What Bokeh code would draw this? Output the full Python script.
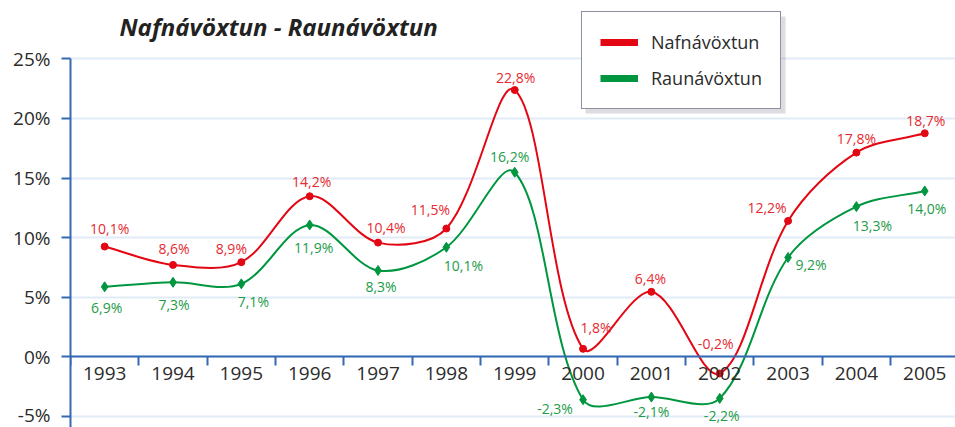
import numpy as np
from bokeh.plotting import figure
from bokeh.models import (ColumnDataSource, Range1d, FixedTicker, PrintfTickFormatter,
                          Legend, LegendItem, Label, BoxAnnotation)
from bokeh.core.properties import value
from bokeh.embed import file_html
from bokeh.resources import INLINE

# ---------------- data ----------------
years = ["1993", "1994", "1995", "1996", "1997", "1998", "1999",
         "2000", "2001", "2002", "2003", "2004", "2005"]
# plotted positions
nafn_values = [9.25, 7.71, 7.94, 13.47, 9.58, 10.76, 22.38, 0.67, 5.45, -1.40, 11.40, 17.13, 18.75]
raun_values = [5.87, 6.25, 6.12, 11.06, 7.24, 9.19, 15.48, -3.60, -3.38, -3.49, 8.33, 12.60, 13.91]
# printed data labels
nafn_labels = [10.1, 8.6, 8.9, 14.2, 10.4, 11.5, 22.8, 1.8, 6.4, -0.2, 12.2, 17.8, 18.7]
raun_labels = [6.9, 7.3, 7.1, 11.9, 8.3, 10.1, 16.2, -2.3, -2.1, -2.2, 9.2, 13.3, 14.0]
y_ticks = [-5, 0, 5, 10, 15, 20, 25]
series_names = ["Nafnávöxtun", "Raunávöxtun"]
title_text = "Nafnávöxtun - Raunávöxtun"

# ---------------- layout ----------------
W, H = 955, 427
LEFT = 70            # frame left in px
PX_PER_PCT = 11.92   # vertical scale
PX_PER_CAT = 68.33   # horizontal scale
TOP_GAP = 58.3       # px from top of figure to the 25% line
nafn_dx = [5, 1, -10, 2, 8, -16, 1, 13, -1, -4, -21, 0, 1]
nafn_dy = [-18, -16, -14, -15, -15, -19, -13, -21, -13, -30, -13, -14, -13]
raun_dx = [2, 1, 12, 4, 3, 17, -5, -28, 0, 2, 23, 16, 2]
raun_dy = [21, 22, 18, 23, 16, 18, -16, 9, 14, 17, 7, 19, 18]

RED = "#e30613"
GREEN = "#009640"
RED_T = "#e62a31"
GREEN_T = "#1d9b48"
AXIS = "#3469b3"
GRID = "#e0ebf5"
TXT = "#2b2b2b"
FONT = "Open Sans"

xs = list(range(len(years)))
y_top = max(y_ticks)
y_end = y_top + TOP_GAP / PX_PER_PCT
y_start = y_end - H / PX_PER_PCT


def bezier_segments(x, y):
    """Chord-length weighted smooth curve through the points (as bezier segments)."""
    x = np.asarray(x, float)
    y = np.asarray(y, float)
    n = len(x)
    sx, sy = x * PX_PER_CAT, y * PX_PER_PCT
    d = np.hypot(np.diff(sx), np.diff(sy))  # screen distance between neighbours
    out_c, in_c = [], []
    for i in range(n):
        ip, inx = max(i - 1, 0), min(i + 1, n - 1)
        tx, ty = x[inx] - x[ip], y[inx] - y[ip]
        dp = d[i - 1] if i > 0 else 0.0
        dn = d[i] if i < n - 1 else 0.0
        s = dp + dn
        fo = dn / s / 3 if s else 0
        fi = dp / s / 3 if s else 0
        out_c.append((x[i] + tx * fo, y[i] + ty * fo))
        in_c.append((x[i] - tx * fi, y[i] - ty * fi))
    seg = dict(x0=x[:-1], y0=y[:-1], x1=x[1:], y1=y[1:],
               cx0=[c[0] for c in out_c[:-1]], cy0=[c[1] for c in out_c[:-1]],
               cx1=[c[0] for c in in_c[1:]], cy1=[c[1] for c in in_c[1:]])
    return ColumnDataSource(seg)


def fmt(v):
    return f"{v:.1f}".replace(".", ",") + "%"


p = figure(width=W, height=H, output_backend="svg", toolbar_location=None,
           x_range=Range1d(-0.5, len(years) - 0.55), y_range=Range1d(y_start, y_end),
           min_border_left=LEFT, min_border_right=0, min_border_top=0, min_border_bottom=0)
p.outline_line_color = None
p.background_fill_color = "white"
p.border_fill_color = "white"

# axes
p.xgrid.visible = False
p.ygrid.ticker = FixedTicker(ticks=y_ticks)
p.ygrid.grid_line_color = GRID
p.ygrid.grid_line_width = 2

yax = p.yaxis[0]
yax.ticker = FixedTicker(ticks=y_ticks)
yax.formatter = PrintfTickFormatter(format="%d%%")
yax.bounds = (y_start, y_top)
yax.axis_line_color = AXIS
yax.axis_line_width = 2
yax.major_tick_line_color = AXIS
yax.major_tick_line_width = 2
yax.major_tick_out = 9
yax.major_tick_in = 0
yax.minor_tick_line_color = None
yax.major_label_standoff = 11
yax.major_label_text_font = FONT
yax.major_label_text_font_size = "19px"
yax.major_label_text_color = TXT

xax = p.xaxis[0]
xax.fixed_location = 0
xax.ticker = FixedTicker(ticks=xs, minor_ticks=[i - 0.5 for i in range(len(years) + 1)])
xax.major_label_overrides = {i: y for i, y in enumerate(years)}
xax.axis_line_color = AXIS
xax.axis_line_width = 2
xax.major_tick_line_color = None
xax.major_tick_out = 0
xax.major_tick_in = 0
xax.minor_tick_line_color = AXIS
xax.minor_tick_line_width = 2
xax.minor_tick_out = 9
xax.minor_tick_in = 0
xax.major_label_standoff = 1
xax.major_label_text_font = FONT
xax.major_label_text_font_size = "19px"
xax.major_label_text_color = TXT

# title
p.add_layout(Label(x=-0.5, y=y_top + 32 / PX_PER_PCT, x_offset=49, text=title_text,
                   text_font=FONT, text_font_style="bold italic", text_font_size="24px",
                   text_color="#222222", text_baseline="alphabetic", text_align="left"))

# curves
for vals, col in ((nafn_values, RED), (raun_values, GREEN)):
    p.bezier(x0="x0", y0="y0", x1="x1", y1="y1", cx0="cx0", cy0="cy0", cx1="cx1", cy1="cy1",
             source=bezier_segments(xs, vals), line_color=col, line_width=2)

p.scatter(xs, nafn_values, marker="circle", size=7, color=RED)
p.scatter(xs, raun_values, marker="diamond", size=10, color=GREEN)

for vals, labs, dx, dy, col in ((nafn_values, nafn_labels, nafn_dx, nafn_dy, RED_T),
                                (raun_values, raun_labels, raun_dx, raun_dy, GREEN_T)):
    src = ColumnDataSource(dict(x=xs, y=vals, t=[fmt(v) for v in labs], dx=dx, dy=dy))
    p.text(x="x", y="y", text="t", x_offset="dx", y_offset="dy", source=src,
           text_font=value(FONT), text_font_size="14px", text_color=col,
           text_align="center", text_baseline="middle")

# legend (with soft shadow)
LEG_X, LEG_Y, LEG_W, LEG_H = 511, 318, 200, 97
p.add_layout(BoxAnnotation(left=LEG_X + 4, right=LEG_X + LEG_W + 4,
                           bottom=LEG_Y - 4, top=LEG_Y + LEG_H - 4,
                           left_units="screen", right_units="screen",
                           bottom_units="screen", top_units="screen",
                           fill_color="#9a9aa8", fill_alpha=0.35, line_color=None))
# legend swatches: one-point lines (draw nothing in the plot)
l1 = p.line(x=xs[:1], y=nafn_values[:1], line_color=RED, line_width=7)
l2 = p.line(x=xs[:1], y=raun_values[:1], line_color=GREEN, line_width=7)
legend = Legend(items=[LegendItem(label=series_names[0], renderers=[l1]),
                       LegendItem(label=series_names[1], renderers=[l2])],
                location=(LEG_X, LEG_Y))
legend.label_text_font = FONT
legend.label_text_font_size = "18px"
legend.label_text_color = TXT
legend.label_height = 20
legend.glyph_height = 20
legend.glyph_width = 38
legend.label_standoff = 13
legend.spacing = 12
legend.padding = 18
legend.margin = 0
legend.border_line_color = "#20204a"
legend.border_line_width = 1.5
legend.background_fill_color = "white"
legend.background_fill_alpha = 1
p.add_layout(legend)

open("out.html", "w").write(file_html(p, INLINE))
